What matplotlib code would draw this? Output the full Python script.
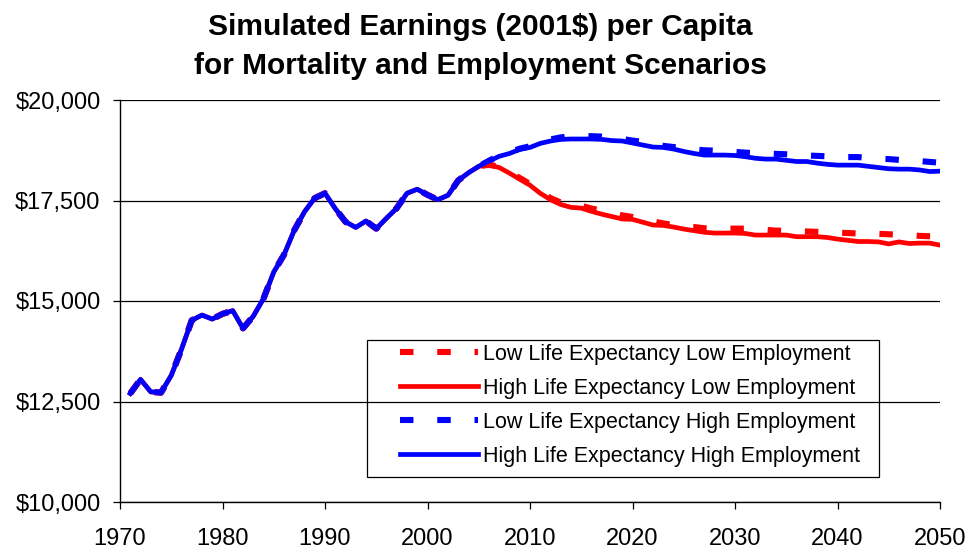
import matplotlib
import numpy as np
import matplotlib.pyplot as plt
from matplotlib.ticker import FuncFormatter
from matplotlib.patches import Rectangle

matplotlib.use("Agg")

plt.rcParams["font.family"] = ["Liberation Sans", "DejaVu Sans"]

# shared history, 1971-2005
hist_years = list(range(1971, 2006))
hist_vals = [12700, 13050, 12740, 12720, 13150, 13800, 14520, 14650, 14550, 14680,
             14760, 14320, 14620, 15060, 15720, 16150, 16760, 17220, 17560, 17680,
             17300, 16970, 16830, 16990, 16800, 17060, 17310, 17680, 17780, 17640,
             17520, 17630, 18000, 18190, 18350]

# projections, 2006-2050
proj_years = list(range(2006, 2051))

lle_low_emp = [18390, 18340, 18200, 18060, 17910, 17720, 17560, 17450, 17400, 17370,
               17300, 17250, 17190, 17130, 17090, 17040, 16980, 16930, 16890, 16860,
               16840, 16810, 16800, 16800, 16800, 16800, 16790, 16770, 16750, 16750,
               16740, 16730, 16720, 16710, 16700, 16690, 16680, 16670, 16670, 16660,
               16650, 16640, 16620, 16610, 16600]

hle_low_emp = [18380, 18320, 18180, 18030, 17880, 17680, 17520, 17400, 17330, 17310,
               17230, 17160, 17100, 17040, 17030, 16960, 16890, 16880, 16840, 16790,
               16750, 16710, 16690, 16690, 16690, 16680, 16640, 16640, 16640, 16640,
               16600, 16600, 16600, 16580, 16540, 16510, 16480, 16480, 16470, 16420,
               16470, 16430, 16440, 16440, 16390]

lle_high_emp = [18490, 18620, 18690, 18790, 18850, 18950, 19020, 19070, 19100, 19100,
                19100, 19090, 19060, 19030, 18990, 18960, 18910, 18860, 18830, 18800,
                18770, 18750, 18740, 18720, 18710, 18690, 18680, 18670, 18660, 18650,
                18640, 18620, 18610, 18600, 18590, 18580, 18580, 18560, 18540, 18530,
                18510, 18490, 18480, 18460, 18440]

hle_high_emp = [18480, 18600, 18670, 18770, 18820, 18920, 18980, 19020, 19030, 19030,
                19030, 19020, 18990, 18980, 18930, 18880, 18830, 18820, 18780, 18720,
                18670, 18630, 18630, 18630, 18620, 18590, 18550, 18530, 18530, 18500,
                18470, 18470, 18430, 18400, 18380, 18380, 18380, 18350, 18320, 18290,
                18280, 18280, 18260, 18220, 18230]

labels = ["Low Life Expectancy Low Employment",
          "High Life Expectancy Low Employment",
          "Low Life Expectancy High Employment",
          "High Life Expectancy High Employment"]

RED = "#ff0000"
BLUE = "#0000ff"

W, H = 967, 552
fig = plt.figure(figsize=(W / 100, H / 100), dpi=100)
ax = fig.add_axes([120 / W, 1 - 502 / H, 820 / W, 402 / H])

years = hist_years + proj_years
series = [hist_vals + lle_low_emp, hist_vals + hle_low_emp,
          hist_vals + lle_high_emp, hist_vals + hle_high_emp]
colors = [RED, RED, BLUE, BLUE]
dashed = [True, False, True, False]

for vals, c, d, lab in zip(series, colors, dashed, labels):
    if d:
        ax.plot(years, vals, color=c, lw=4.4, dashes=(2.2, 3.9),
                solid_capstyle="butt", dash_capstyle="butt", label=lab, zorder=3)
    else:
        ax.plot(years, vals, color=c, lw=3.4, label=lab, zorder=4,
                solid_joinstyle="round")

ax.set_xlim(1970, 2050)
ax.set_ylim(10000, 20000)
ax.set_xticks(range(1970, 2051, 10))
ax.set_yticks(range(10000, 20001, 2500))
ax.yaxis.set_major_formatter(FuncFormatter(lambda v, p: f"${v:,.0f}"))
ax.grid(axis="y", color="black", lw=0.9)
ax.set_axisbelow(True)
for s in ["top", "right"]:
    ax.spines[s].set_visible(False)
for s in ["left", "bottom"]:
    ax.spines[s].set_linewidth(1.0)
ax.tick_params(axis="both", labelsize=17, direction="out", length=5, width=0.9)
ax.tick_params(axis="x", pad=14)
ax.tick_params(axis="y", pad=9)

# legend: entries placed inside a separately drawn frame
leg = ax.legend(loc="upper left", bbox_to_anchor=(400 / W, 1 - 344 / H),
                bbox_transform=fig.transFigure, fontsize=15.5, frameon=False,
                handlelength=3.6, borderpad=0, labelspacing=0.6,
                handletextpad=0.25, borderaxespad=0)
fig.patches.append(Rectangle((367 / W, 1 - 477 / H), 512 / W, 137 / H,
                             transform=fig.transFigure, fill=False,
                             edgecolor="black", lw=0.9, zorder=5))

fig.text(0.497, 0.976, "Simulated Earnings (2001$) per Capita\nfor Mortality and Employment Scenarios",
         ha="center", va="top", fontsize=21.5, fontweight="bold", linespacing=1.5)

fig.savefig("out.png", dpi=100)
